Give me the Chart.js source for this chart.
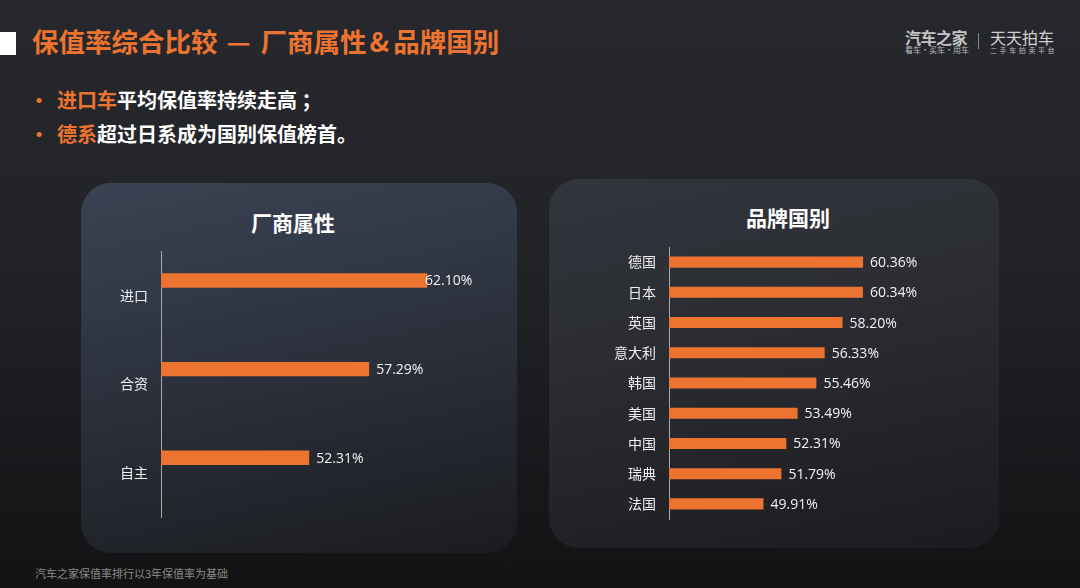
<!DOCTYPE html>
<html><head><meta charset="utf-8">
<script src="https://cdn.jsdelivr.net/npm/chart.js@4"></script>
<style>
html,body{margin:0;padding:0;}
body{width:1080px;height:588px;overflow:hidden;position:relative;
  background:linear-gradient(180deg,#27282d 0%,#222327 45%,#17171a 85%,#131315 100%);
  font-family:"Noto Sans CJK SC","Noto Sans",sans-serif;}
.abs{position:absolute;white-space:nowrap;}
#sq{left:0;top:32px;width:16px;height:23px;background:#fff;}
#title{left:32px;top:25px;font-size:26.5px;line-height:32px;font-weight:bold;color:#ec7430;}
#title .dash{display:inline-block;margin:0 10px 0 9px;}
#title .amp{display:inline-block;margin:0 4px 0 3px;}
.bullet{left:29px;font-size:20px;line-height:24px;font-weight:bold;color:#fff;}
.bullet .dot{color:#ec7430;display:inline-block;width:28px;}
.bullet .hl{color:#ec7430;}
.panel{border-radius:30px;}
#p1{left:81px;top:183px;width:436px;height:370px;
  background:linear-gradient(168deg,#3a4353 0%,#313846 30%,#262a32 65%,#1b1c20 100%);}
#p2{left:549px;top:179px;width:450px;height:369px;
  background:linear-gradient(168deg,#32353c 0%,#2b2d33 40%,#222327 75%,#1b1c1f 100%);}
.ptitle{width:200px;text-align:center;font-size:21px;line-height:26px;font-weight:bold;color:#fff;}
#logo1{left:905px;top:28px;font-size:16px;line-height:18px;font-weight:bold;color:#c4c4c4;letter-spacing:-0.5px;}
#logo1s{left:905px;top:45px;font-size:8px;line-height:10px;color:#bdbdbd;}
#logodiv{left:978px;top:33px;width:1px;height:16px;background:#8a8a8a;}
#logo2{left:990px;top:28px;font-size:16px;line-height:18px;color:#cfcfcf;}
#logo2s{left:990px;top:45px;font-size:7px;line-height:10px;color:#bdbdbd;letter-spacing:2.6px;}
#foot{left:35px;top:566px;font-size:11px;line-height:14px;color:#8a8a8a;}
canvas{position:absolute;}
</style></head>
<body>
<div class="abs" id="sq"></div>
<div class="abs" id="title">保值率综合比较<span class="dash">—</span>厂商属性<span class="amp">&amp;</span>品牌国别</div>
<div class="abs bullet" style="top:88px;"><span class="dot">•</span><span class="hl">进口车</span>平均保值率持续走高 ；</div>
<div class="abs bullet" style="top:122px;"><span class="dot">•</span><span class="hl">德系</span>超过日系成为国别保值榜首。</div>
<div class="abs" id="logo1">汽车之家</div>
<div class="abs" id="logo1s">看车·买车·用车</div>
<div class="abs" id="logodiv"></div>
<div class="abs" id="logo2">天天拍车</div>
<div class="abs" id="logo2s">二手车拍卖平台</div>
<div class="abs panel" id="p1"></div>
<div class="abs panel" id="p2"></div>
<div class="abs ptitle" style="left:193px;top:209px;">厂商属性</div>
<div class="abs ptitle" style="left:688px;top:204px;">品牌国别</div>
<canvas id="c1" width="436" height="370" style="left:81px;top:183px;"></canvas>
<canvas id="c2" width="450" height="369" style="left:549px;top:179px;"></canvas>
<div class="abs" id="foot">汽车之家保值率排行以3年保值率为基础</div>
<script>
const makerCats = ['进口', '合资', '自主'];
const makerValues = [62.10, 57.29, 52.31];
const makerPlaceholder = [null, null, null];
const countryCats = ['德国', '日本', '英国', '意大利', '韩国', '美国', '中国', '瑞典', '法国'];
const countryValues = [60.36, 60.34, 58.20, 56.33, 55.46, 53.49, 52.31, 51.79, 49.91];
const makerAxis = { min: 40, max: 65 };
const countryAxis = { min: 40, max: 70 };

const ORANGE = '#ec7430';
const valueLabels = {
  id: 'valueLabels',
  afterDatasetsDraw(chart, args, opts) {
    const ctx = chart.ctx;
    const meta = chart.getDatasetMeta(0);
    const vals = chart.data.datasets[0].data;
    ctx.save();
    ctx.font = '14px "Open Sans", "Noto Sans", sans-serif';
    ctx.fillStyle = '#f2f2f2';
    ctx.textBaseline = 'middle';
    ctx.textAlign = 'left';
    meta.data.forEach((bar, i) => {
      const off = (opts.offsets && opts.offsets[i] != null) ? opts.offsets[i] : 7;
      ctx.fillText(vals[i].toFixed(2) + '%', bar.x + off, bar.y + 1);
    });
    ctx.restore();
  }
};

function yScale(width) {
  return {
    grid: { display: false, drawTicks: false },
    border: { display: true, color: '#a9a9a9', width: 1 },
    ticks: { color: '#f0f0f0', padding: 13, font: { family: '"Noto Sans CJK SC"', size: 14 } },
    afterFit(s) { s.width = width; }
  };
}

new Chart(document.getElementById('c1'), {
  type: 'bar',
  data: {
    labels: makerCats,
    datasets: [
      { data: makerValues, backgroundColor: ORANGE, categoryPercentage: 0.672, barPercentage: 0.483 },
      { data: makerPlaceholder, backgroundColor: ORANGE, categoryPercentage: 0.672, barPercentage: 0.483 }
    ]
  },
  options: {
    indexAxis: 'y', responsive: false, animation: false,
    layout: { padding: { left: 0, right: 55, top: 68, bottom: 36 } },
    plugins: { legend: { display: false }, tooltip: { enabled: false }, valueLabels: { offsets: [-2, 7, 7] } },
    scales: {
      x: { display: false, min: makerAxis.min, max: makerAxis.max },
      y: yScale(80)
    }
  },
  plugins: [valueLabels]
});

new Chart(document.getElementById('c2'), {
  type: 'bar',
  data: {
    labels: countryCats,
    datasets: [
      { data: countryValues, backgroundColor: ORANGE, categoryPercentage: 1, barPercentage: 0.365 }
    ]
  },
  options: {
    indexAxis: 'y', responsive: false, animation: false,
    layout: { padding: { left: 0, right: 44, top: 68, bottom: 29 } },
    plugins: { legend: { display: false }, tooltip: { enabled: false }, valueLabels: {} },
    scales: {
      x: { display: false, min: countryAxis.min, max: countryAxis.max },
      y: yScale(120)
    }
  },
  plugins: [valueLabels]
});
</script>
</body></html>
